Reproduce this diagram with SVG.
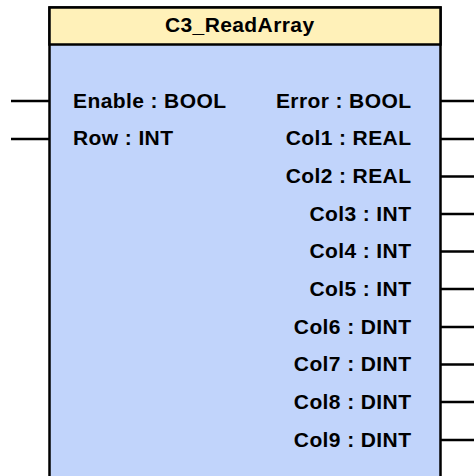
<svg xmlns="http://www.w3.org/2000/svg" width="474" height="476" viewBox="0 0 474 476">
<style>
text{font-family:"Liberation Sans",Arial,sans-serif;font-weight:bold;font-size:21px;letter-spacing:0.4px;fill:#000}
.in{text-anchor:start}
.out{text-anchor:end}
.pin{stroke:#000;stroke-width:2.5;fill:none}
</style>
<rect width="474" height="476" fill="#fff"/>
<g id="block">
<rect x="49.5" y="7.5" width="391" height="480" fill="#c1d4fb" stroke="#000" stroke-width="2.5"/>
<rect x="49.5" y="7.5" width="391" height="37" fill="#fff1b9" stroke="#000" stroke-width="2.5"/>
<text x="239.7" y="32" text-anchor="middle">C3_ReadArray</text>
</g>
<g id="inputs">
<text class="in" x="73" y="108">Enable : BOOL</text>
<text class="in" x="73" y="145">Row : INT</text>
</g>
<g id="outputs">
<text class="out" x="411.4" y="108">Error : BOOL</text>
<text class="out" x="411.4" y="145">Col1 : REAL</text>
<text class="out" x="411.4" y="183">Col2 : REAL</text>
<text class="out" x="411.4" y="221">Col3 : INT</text>
<text class="out" x="411.4" y="258">Col4 : INT</text>
<text class="out" x="411.4" y="296">Col5 : INT</text>
<text class="out" x="411.4" y="334">Col6 : DINT</text>
<text class="out" x="411.4" y="371">Col7 : DINT</text>
<text class="out" x="411.4" y="409">Col8 : DINT</text>
<text class="out" x="411.4" y="447">Col9 : DINT</text>
</g>
<g id="connectors" class="pin">
<path d="M11 101H49M11 139H49"/>
<path d="M441 101H474M441 139H474M441 176.5H474M441 214H474M441 251.5H474M441 289H474M441 327H474M441 364.5H474M441 402H474M441 440H474"/>
</g>
</svg>
